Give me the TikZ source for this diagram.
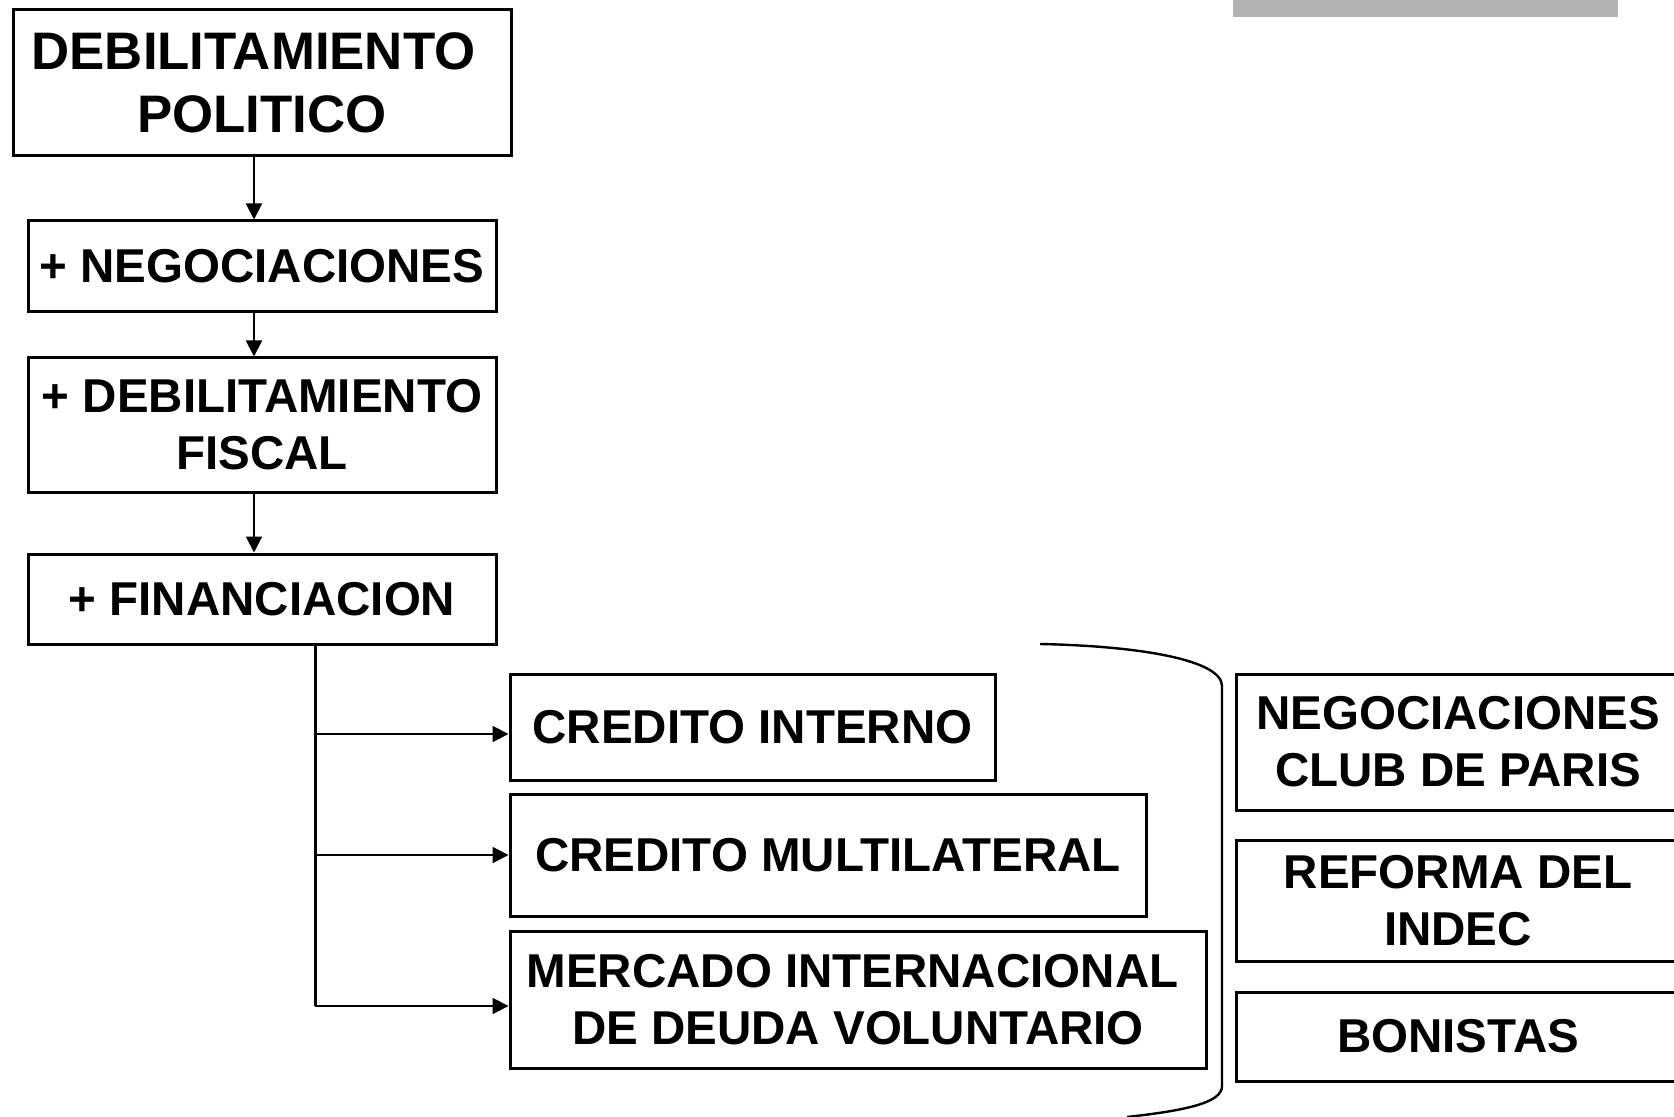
\documentclass[tikz,border=0pt]{standalone}
\usepackage{fontspec}
\setmainfont{Liberation Sans}
\usepackage{tikz}
\usetikzlibrary{arrows.meta}
\definecolor{bargray}{HTML}{B3B3B3}

\begin{document}
\begin{tikzpicture}[x=0.5pt, y=-0.5pt]

        \tikzset{box/.style = {shape=rectangle, draw, line width=1.5pt, inner sep=0pt, align=center, font=\bfseries\fontsize{23.75}{28.5}\selectfont}}
        \tikzset{edge/.style = {line width=1pt, -{Triangle[length=8pt,width=8pt]}}}
        \tikzset{trunk/.style = {line width=1.5pt}}

        \useasboundingbox (0,0) rectangle (1674,1117);
        \fill[bargray] (1233,0) rectangle (1618,17.5);

        \node[box, minimum width=249pt, minimum height=73pt, font=\bfseries\fontsize{26.4}{31.5}\selectfont] (1) at (262,83) {DEBILITAMIENTO\hspace*{8.5pt}\\POLITICO};
        \node[box, minimum width=234pt, minimum height=45.5pt] (2) at (262,266.5) {+ NEGOCIACIONES};
        \node[box, minimum width=234pt, minimum height=67pt] (3) at (262,425) {+ DEBILITAMIENTO\\FISCAL};
        \node[box, minimum width=234pt, minimum height=45pt] (4) at (262,599) {+ FINANCIACION};

        \node[box, minimum width=242.5pt, minimum height=53pt] (5) at (752.5,727) {CREDITO INTERNO};
        \node[box, minimum width=318pt, minimum height=61pt] (6) at (828,855) {CREDITO MULTILATERAL};
        \node[box, minimum width=348pt, minimum height=68.5pt] (7) at (858,999.5) {MERCADO INTERNACIONAL\hspace*{5.5pt}\\DE DEUDA VOLUNTARIO};

        \node[box, minimum width=222pt, minimum height=68pt] (8) at (1458,742) {NEGOCIACIONES\\CLUB DE PARIS};
        \node[box, minimum width=222pt, minimum height=60.5pt] (9) at (1458,900.5) {REFORMA DEL\\INDEC};
        \node[box, minimum width=222pt, minimum height=44.5pt] (10) at (1458,1036.5) {BONISTAS};

        \draw[edge] ([xshift=-4pt]1.south) -- ([xshift=-4pt]2.north);
        \draw[edge] ([xshift=-4pt]2.south) -- ([xshift=-4pt]3.north);
        \draw[edge] ([xshift=-4pt]3.south) -- ([xshift=-4pt]4.north);

        \coordinate (j) at ([xshift=26.5pt]4.south);
        \coordinate (a5) at ([yshift=-3.5pt]5.west);
        \coordinate (a7) at ([yshift=-3.25pt]7.west);
        \draw[trunk] (j) -- (j |- a7);
        \draw[edge] (j |- a5) -- (a5);
        \draw[edge] (j |- 6.west) -- (6.west);
        \draw[edge] (j |- a7) -- (a7);

        \draw[line width=1.2pt] (1040,644) .. controls (1140,646) and (1222,660) .. (1222,686)
            -- (1222,1086) .. controls (1222,1102) and (1190,1110) .. (1127,1117);
\end{tikzpicture}
\end{document}
